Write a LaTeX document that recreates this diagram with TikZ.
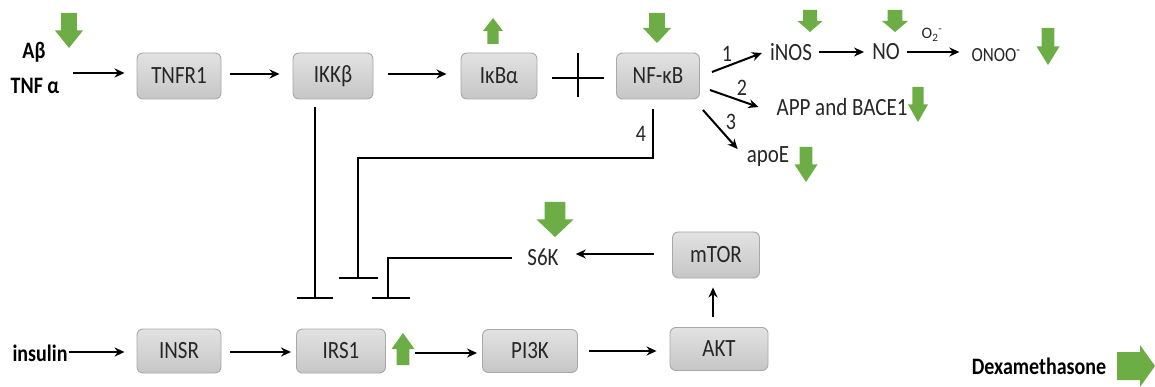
\documentclass[tikz,border=0pt]{standalone}
\usepackage{fontspec}
\usepackage{graphicx}
\setmainfont{Carlito}
\usetikzlibrary{arrows.meta,calc}
\definecolor{boxtop}{HTML}{E2E2E2}
\definecolor{boxbot}{HTML}{C6C6C6}
\definecolor{boxline}{HTML}{A8A8A8}
\definecolor{gfill}{HTML}{6DAD45}
\definecolor{txt}{HTML}{262626}
\newcommand\st[1]{\scalebox{1}[1.18]{#1}}
\newcommand\gdn[4]{% center x, top y, width, height (arrow pointing down)
  \fill[gfill] ({#1-#3*0.28},#2) -- ({#1+#3*0.28},#2) -- ({#1+#3*0.28},{#2+#4*0.5})
    -- ({#1+#3*0.5},{#2+#4*0.5}) -- (#1,{#2+#4}) -- ({#1-#3*0.5},{#2+#4*0.5})
    -- ({#1-#3*0.28},{#2+#4*0.5}) -- cycle;}
\newcommand\gup[4]{% center x, top y, width, height (arrow pointing up)
  \fill[gfill] ({#1-#3*0.28},{#2+#4}) -- ({#1+#3*0.28},{#2+#4}) -- ({#1+#3*0.28},{#2+#4*0.5})
    -- ({#1+#3*0.5},{#2+#4*0.5}) -- (#1,#2) -- ({#1-#3*0.5},{#2+#4*0.5})
    -- ({#1-#3*0.28},{#2+#4*0.5}) -- cycle;}
\begin{document}
\begin{tikzpicture}[x=1pt,y=-1pt,
  box/.style={draw=boxline, line width=0.9pt, rounded corners=6pt, top color=boxtop, bottom color=boxbot,
    minimum height=46pt, inner sep=0pt, text=txt, font=\fontsize{21}{24}\selectfont},
  lbl/.style={inner sep=0pt, text=txt, font=\fontsize{21}{24}\selectfont},
  blbl/.style={inner sep=0pt, text=black, font=\bfseries\fontsize{20}{24}\selectfont},
  num/.style={inner sep=0pt, text=txt, font=\fontsize{20}{24}\selectfont},
  act/.style={line width=2pt, -{Stealth[length=10pt,width=9pt]}},
  inh/.style={line width=2pt},
  bar/.style={line width=2pt}]
\useasboundingbox (0,0) rectangle (1155,387);

% top row
\node[blbl] (ab) at (34,52) {\st{Aβ}};
\node[blbl] (tnfa) at (35,86) {\st{TNF α}};
\node[box, minimum width=84pt] (tnfr) at (179,76) {\st{TNFR1}};
\node[box, minimum width=80pt] (ikk) at (333,76) {\st{IKKβ}};
\node[box, minimum width=76pt] (ikb) at (499,76) {\st{IκBα}};
\node[box, minimum width=83pt] (nfkb) at (658,76) {\st{NF-κB}};
\coordinate (in1) at (73,73);

\draw[act] (in1) -- ($(tnfr.west)+(-12,-3)$);
\draw[act] ($(tnfr.east)+(9,-2)$) -- ($(ikk.west)+(-13,-2)$);
\draw[act] ($(ikk.east)+(15,-2)$) -- ($(ikb.west)+(-14,-2)$);
\draw[inh] ($(ikb.east)+(15,2)$) -- ($(nfkb.west)+(-12,2)$);
\draw[bar] ($(ikb.east)+(41,-23)$) -- ($(ikb.east)+(41,21)$);

% NF-kB targets
\node[lbl] (inos) at (791,52) {\st{iNOS}};
\node[lbl] (no) at (886,52) {\st{NO}};
\node[inner sep=0pt, text=txt, font=\fontsize{17}{20}\selectfont] (onoo) at (996,55) {\st{ONOO\textsuperscript{-}}};
\node[lbl] (app) at (842,107) {\st{APP and BACE1}};
\node[lbl] (apoe) at (768,157) {\st{apoE}};

\draw[act] ($(nfkb.east)+(12,-4)$) -- ($(inos.west)+(-8,1)$);
\draw[act] ($(nfkb.east)+(10,14)$) -- ($(app.west)+(-18,0)$);
\draw[act] ($(nfkb.east)+(3,34)$) -- ($(apoe.west)+(-9,-8)$);
\node[num] (n1) at (727,54) {\st{1}};
\node[num] (n2) at (742,88) {\st{2}};
\node[num] (n3) at (731,122) {\st{3}};
\draw[act] ($(inos.east)+(7,0)$) -- ($(no.west)+(-8,0)$);
\draw[act] ($(no.east)+(7,0)$) -- ($(onoo.west)+(-12,-3)$);
\node[inner sep=0pt, text=txt, font=\fontsize{16}{18}\selectfont] (o2) at (932,35) {O\textsubscript{2}\textsuperscript{-}};

% inhibition lines down to IRS1
\node[box, minimum width=89pt, minimum height=44pt] (irs) at (341,351) {\st{IRS1}};
\node[lbl] (s6k) at (543,257) {\st{S6K}};
\node[box, minimum width=87pt] (mtor) at (716,255) {\st{mTOR}};

\coordinate (b1) at (315,298);
\coordinate (b2) at (358,278);
\coordinate (b3) at (388,298);
\draw[inh] (ikk.south -| b1) ++(0,8) -- (b1);
\draw[bar] ($(b1)+(-18,0)$) -- ($(b1)+(18,0)$);
\draw[inh] ($(nfkb.south)+(-5,10)$) -- ++(0,49) -| (b2);
\node[num] (n4) at (641,134) {\st{4}};
\draw[bar] ($(b2)+(-19,0)$) -- ($(b2)+(20,0)$);
\draw[inh] ($(s6k.west)+(-15,1)$) -| (b3);
\draw[bar] ($(b3)+(-16,0)$) -- ($(b3)+(22,0)$);

\draw[act] ($(mtor.west)+(-18,-1)$) -- ($(s6k.east)+(17,-3)$);

% bottom row
\node[blbl] (ins) at (40,353) {\st{insulin}};
\node[box, minimum width=84pt, minimum height=44pt] (insr) at (179,351) {\st{INSR}};
\node[box, minimum width=95pt, minimum height=43pt] (pi3k) at (530,351) {\st{PI3K}};
\node[box, minimum width=98pt, minimum height=43pt] (akt) at (719,349) {\st{AKT}};

\draw[act] ($(ins.east)+(1,-1)$) -- ($(insr.west)+(-12,1)$);
\draw[act] ($(insr.east)+(9,1)$) -- ($(irs.west)+(-5,1)$);
\draw[act] ($(irs.east)+(29,2)$) -- ($(pi3k.west)+(-5,2)$);
\draw[act] ($(pi3k.east)+(11,0)$) -- ($(akt.west)+(-13,2)$);
\draw[act] ($(akt.north)+(-6,-10)$) -- ($(mtor.south)+(-3,9)$);

\node[blbl] (dexa) at (1039,366) {\st{Dexamethasone}};

% green arrows
\gdn{69}{13}{28}{35}
\gup{493}{18}{20}{26}
\gdn{657}{13}{28}{30}
\gdn{810}{10}{25}{22}
\gdn{895}{10}{26}{22}
\gdn{1048}{28}{23}{37}
\gdn{918}{87}{20}{35}
\gdn{806}{147}{23}{35}
\gdn{555}{202}{37}{35}
\gup{403}{333}{23}{32}
\fill[gfill] (1117,352) -- (1140,352) -- (1140,345) -- (1155,366) -- (1140,387) -- (1140,380) -- (1117,380) -- cycle;
\end{tikzpicture}
\end{document}
